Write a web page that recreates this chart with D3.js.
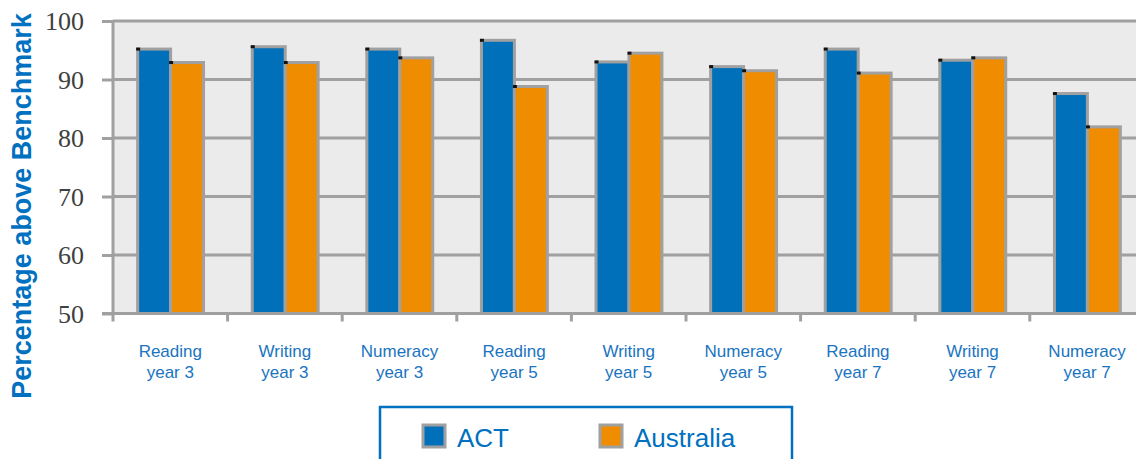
<!DOCTYPE html>
<html lang="en">
<head>
<meta charset="UTF-8">
<title>Percentage above Benchmark</title>
<style>
  * { margin: 0; padding: 0; }
  body { background: #fff; width: 1136px; height: 459px; overflow: hidden; }
  svg { display: block; }
  .xlab { font-family: "Liberation Sans", Arial, sans-serif; font-size: 17px; fill: #1a74c0; }
  .ytitle { font-family: "Liberation Sans", Arial, sans-serif; font-size: 27px; font-weight: bold; fill: #0070c0; }
  .leg { font-family: "Liberation Sans", Arial, sans-serif; font-size: 26px; fill: #0070c0; }
  .ylab { font-family: "Liberation Serif", serif; font-size: 26px; fill: #404040; }
</style>
<script src="https://cdn.jsdelivr.net/npm/d3@7/dist/d3.min.js"></script>
</head>
<body>
<div id="chart"></div>
<script>
  // data
  var categories = ['Reading year 3', 'Writing year 3', 'Numeracy year 3',
                    'Reading year 5', 'Writing year 5', 'Numeracy year 5',
                    'Reading year 7', 'Writing year 7', 'Numeracy year 7'];
  var series = ['ACT', 'Australia'];
  var actValues = [95.2, 95.6, 95.2, 96.7, 93.0, 92.2, 95.2, 93.3, 87.6];
  var ausValues = [92.9, 92.9, 93.7, 88.8, 94.5, 91.5, 91.1, 93.7, 81.9];
  var yTicks = [50, 60, 70, 80, 90, 100];
  var colors = { 'ACT': '#0070bb', 'Australia': '#f08c00' };

  var w = 1136, h = 459;
  var plotLeft = 113, plotTop = 21, plotBottom = 313.5;
  var step = 114.6;
  var gray = '#a0a0a0';

  var svg = d3.select('#chart').append('svg')
      .attr('width', w).attr('height', h);

  var x0 = d3.scaleBand()
      .domain(categories)
      .range([plotLeft, plotLeft + step * categories.length]);
  var x1 = d3.scaleBand()
      .domain(series)
      .range([x0.bandwidth() * 0.215, x0.bandwidth() * 0.79]);
  var y = d3.scaleLinear().domain([50, 100]).range([plotBottom, plotTop]);

  // plot background
  svg.append('rect')
      .attr('x', plotLeft).attr('y', plotTop)
      .attr('width', w - plotLeft).attr('height', plotBottom - plotTop)
      .attr('fill', '#ebebeb');

  // y axis + gridlines
  var yAxis = d3.axisLeft(y).tickValues(yTicks).tickSize(11).tickPadding(18);
  var yg = svg.append('g').attr('transform', 'translate(' + plotLeft + ',0)').call(yAxis);
  yg.attr('font-family', '"Liberation Serif", serif').attr('font-size', 26);
  yg.select('.domain').remove();
  yg.selectAll('.tick line').attr('stroke', gray).attr('stroke-width', 3);
  yg.selectAll('.tick text')
      .attr('class', 'ylab')
      .attr('dy', '0.34em')
      .attr('fill', '#404040');

  svg.append('g').selectAll('line')
      .data(yTicks).enter().append('line')
      .attr('x1', plotLeft).attr('x2', w)
      .attr('y1', (d) => y(d)).attr('y2', (d) => y(d))
      .attr('stroke', gray).attr('stroke-width', 3);

  // left axis line
  svg.append('line')
      .attr('x1', plotLeft).attr('x2', plotLeft)
      .attr('y1', plotTop).attr('y2', plotBottom)
      .attr('stroke', gray).attr('stroke-width', 3);

  // category tick marks
  svg.append('g').selectAll('line')
      .data(d3.range(categories.length + 1)).enter().append('line')
      .attr('x1', (i) => plotLeft + i * x0.step()).attr('x2', (i) => plotLeft + i * x0.step())
      .attr('y1', plotBottom).attr('y2', plotBottom + 8)
      .attr('stroke', gray).attr('stroke-width', 3);

  // bars
  var rows = categories.map((c, i) => ({ cat: c, vals: [
      { s: 'ACT', v: actValues[i] }, { s: 'Australia', v: ausValues[i] }] }));

  var groups = svg.append('g').selectAll('g')
      .data(rows).enter().append('g')
      .attr('transform', (d) => 'translate(' + x0(d.cat) + ',0)');

  groups.selectAll('rect.bar')
      .data((d) => d.vals).enter().append('rect')
      .attr('class', 'bar')
      .attr('x', (d) => x1(d.s))
      .attr('y', (d) => y(d.v))
      .attr('width', x1.bandwidth())
      .attr('height', (d) => plotBottom - y(d.v))
      .attr('fill', (d) => colors[d.s])
      .attr('stroke', gray).attr('stroke-width', 3);

  // little black markers at top-left corner
  groups.selectAll('rect.mark')
      .data((d) => d.vals).enter().append('rect')
      .attr('class', 'mark')
      .attr('x', (d) => x1(d.s) - 1.5)
      .attr('y', (d) => y(d.v) - 1.5)
      .attr('width', 4).attr('height', 3)
      .attr('fill', '#111');

  // redraw bottom axis line over bars
  svg.append('line')
      .attr('x1', plotLeft - 11).attr('x2', w)
      .attr('y1', plotBottom).attr('y2', plotBottom)
      .attr('stroke', gray).attr('stroke-width', 3);

  // x labels
  var xl = svg.append('g').selectAll('text')
      .data(categories).enter().append('text')
      .attr('class', 'xlab')
      .attr('text-anchor', 'middle')
      .attr('x', (d) => x0(d) + x0.bandwidth() / 2)
      .attr('y', 357);
  xl.append('tspan').text((d) => d.split(' ')[0])
      .attr('x', (d) => x0(d) + x0.bandwidth() / 2);
  xl.append('tspan').text((d) => d.split(' ').slice(1).join(' '))
      .attr('x', (d) => x0(d) + x0.bandwidth() / 2).attr('dy', 21);

  // y title
  svg.append('text')
      .attr('class', 'ytitle')
      .attr('text-anchor', 'middle')
      .attr('transform', 'translate(31,206) rotate(-90)')
      .text('Percentage above Benchmark');

  // legend
  var legend = svg.append('g');
  legend.append('rect')
      .attr('x', 380).attr('y', 407)
      .attr('width', 412).attr('height', 80)
      .attr('fill', '#fff')
      .attr('stroke', '#0070c0').attr('stroke-width', 2.5);

  var legX = { 'ACT': 423, 'Australia': 600 };
  var items = legend.selectAll('g.item')
      .data(series).enter().append('g')
      .attr('transform', (d) => 'translate(' + legX[d] + ',425)');
  items.append('rect')
      .attr('width', 22).attr('height', 22)
      .attr('fill', (d) => colors[d])
      .attr('stroke', gray).attr('stroke-width', 3);
  items.append('text')
      .attr('class', 'leg')
      .attr('x', 34).attr('y', 22)
      .text((d) => d);
</script>
</body>
</html>
